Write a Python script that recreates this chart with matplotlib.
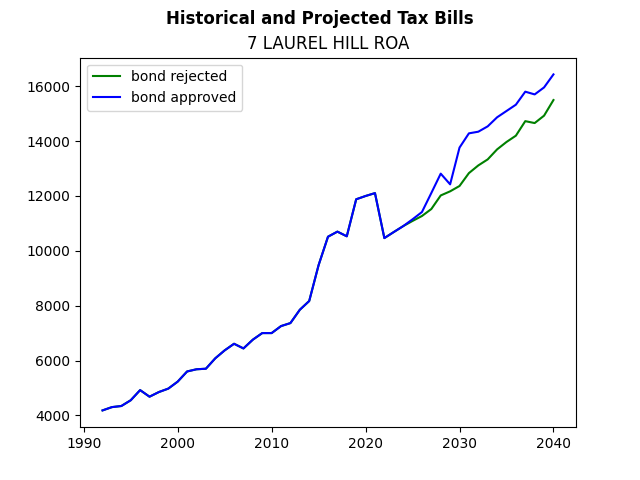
import matplotlib
matplotlib.use('Agg')
import matplotlib.pyplot as plt

years = list(range(1992, 2041))

# shared history 1992-2024
history = [4180, 4300, 4340, 4550, 4920, 4680, 4850, 4975, 5230, 5600,
           5680, 5700, 6080, 6370, 6610, 6440, 6760, 7000, 7000, 7255,
           7365, 7850, 8170, 9480, 10515, 10700, 10530, 11880, 12000, 12105,
           10465, 10685, 10900]

# projections 2025-2040
rejected_proj = [11090, 11270, 11525, 12020, 12170, 12365, 12835, 13115, 13335,
                 13700, 13970, 14200, 14730, 14660, 14930, 15500]
approved_proj = [11150, 11415, 12110, 12815, 12425, 13765, 14285, 14345, 14540,
                 14870, 15100, 15330, 15805, 15705, 15960, 16435]

rejected = history + rejected_proj
approved = history + approved_proj

fig, ax = plt.subplots(figsize=(6.4, 4.8), dpi=100)
ax.plot(years, rejected, color='green', label='bond rejected')
ax.plot(years, approved, color='blue', label='bond approved')
ax.set_title('7 LAUREL HILL ROA')
fig.suptitle('Historical and Projected Tax Bills', fontweight='bold')
ax.legend(loc='upper left')

fig.savefig('out.png')
